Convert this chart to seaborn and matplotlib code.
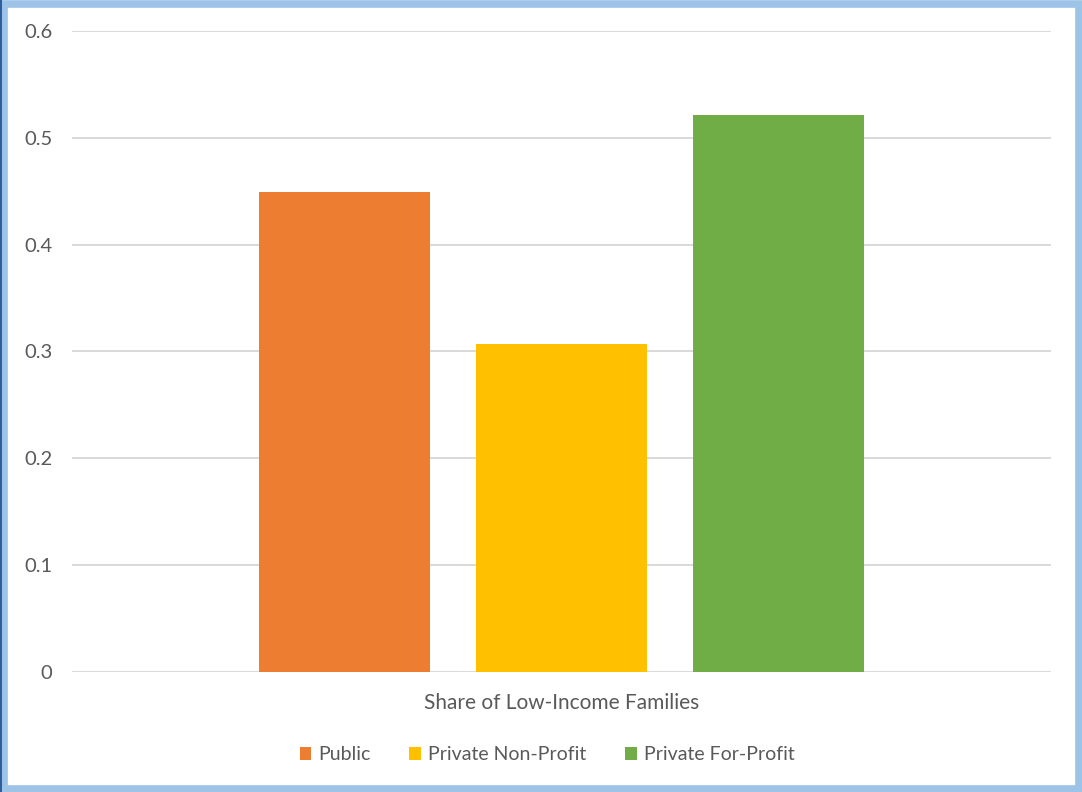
import matplotlib
matplotlib.use("Agg")
import matplotlib.pyplot as plt
from matplotlib.patches import Rectangle
import seaborn as sns
import pandas as pd

# Chart data
category = ["Share of Low-Income Families"]
sectors = ["Public", "Private Non-Profit", "Private For-Profit"]
shares = [0.449, 0.307, 0.521]
colors = ["#ED7D31", "#FFC000", "#70AD47"]
yticks = [0, 0.1, 0.2, 0.3, 0.4, 0.5, 0.6]
ytick_labels = ["0", "0.1", "0.2", "0.3", "0.4", "0.5", "0.6"]

df = pd.DataFrame({
    "category": category * len(sectors),
    "sector": sectors,
    "share": shares,
})

sns.set_theme(style="white")
plt.rcParams["font.family"] = ["Lato", "DejaVu Sans"]

fig = plt.figure(figsize=(10.82, 7.92), dpi=100)
ax = fig.add_axes([72 / 1082, 1 - 672 / 792, (1051 - 72) / 1082, (672 - 31) / 792])

sns.barplot(data=df, x="category", y="share", hue="sector",
            hue_order=sectors, palette=colors, width=0.665, gap=0.21,
            saturation=1, linewidth=0, ax=ax, legend=True)

ax.set_xlim(-0.5, 0.5)
ax.set_ylim(0, 0.6)
ax.set_yticks(yticks)
ax.set_yticklabels(ytick_labels)
ax.yaxis.grid(True, color="#D9D9D9", linewidth=1.4)
ax.set_axisbelow(True)
for s in ax.spines.values():
    s.set_visible(False)
ax.tick_params(axis="y", length=0, pad=14, labelsize=14.5, labelcolor="#595959")
ax.tick_params(axis="x", length=0, labelbottom=False)
ax.set_ylabel("")
ax.set_xlabel("")
for lbl in ax.get_yticklabels():
    lbl.set_horizontalalignment("right")

fig.text(561.5 / 1082, 1 - 703 / 792, category[0], ha="center", va="center",
         fontsize=15, color="#595959")

handles, labels = ax.get_legend_handles_labels()
ax.get_legend().remove()
leg = fig.legend(handles, labels, loc="center", bbox_to_anchor=(547 / 1082, 1 - 755 / 792),
                 ncol=3, frameon=False, fontsize=14, handlelength=0.6, handleheight=0.6,
                 handletextpad=0.35, columnspacing=2.0, labelcolor="#595959")

# Frame around the chart
fig.patches.append(Rectangle((3.5 / 1082, 3.5 / 792), 1 - 7 / 1082, 1 - 7 / 792,
                             transform=fig.transFigure, fill=False,
                             edgecolor="#9DC3E6", linewidth=5.5, zorder=10))
fig.patches.append(Rectangle((0, 0), 2 / 1082, 1, transform=fig.transFigure,
                             facecolor="#2E5E9E", edgecolor="none", zorder=11))

fig.savefig("out.png", dpi=100, facecolor="white")
